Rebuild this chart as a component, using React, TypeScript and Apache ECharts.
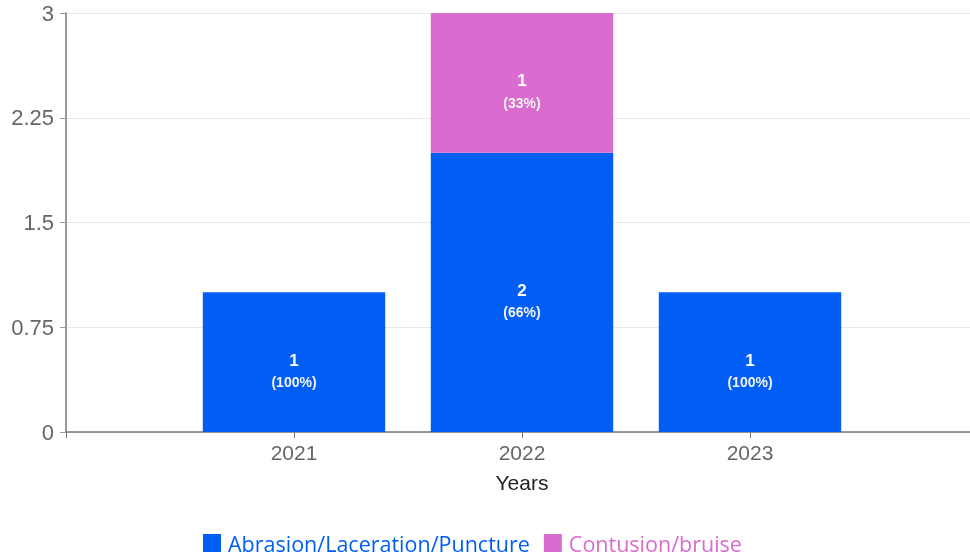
import React, { useEffect, useRef } from "react";
import * as echarts from "echarts";

const categories = ["", "2021", "2022", "2023", ""];
const seriesNames = ["Abrasion/Laceration/Puncture", "Contusion/bruise"];
const abrasionValues = [null, 1, 2, 1, null];
const contusionValues = [null, null, 1, null, null];
const yTicks = [0, 0.75, 1.5, 2.25, 3];
const colors = ["#005EF5", "#DA6BCF"];

const totals = categories.map((_, i) => (abrasionValues[i] || 0) + (contusionValues[i] || 0));

function labelFormatter(p: any) {
  const v = p.value;
  const t = totals[p.dataIndex];
  const pct = t ? Math.floor((v / t) * 100) : 0;
  return `{n|${v}}\n{p|(${pct}%)}`;
}

const FONT = "Liberation Sans, Arial, sans-serif";

const barLabel = {
  show: true,
  position: "inside",
  offset: [0, 9],
  formatter: labelFormatter,
  rich: {
    n: { color: "#ffffff", fontSize: 17, fontWeight: "bold", lineHeight: 22, fontFamily: FONT },
    p: { color: "#f2f2f2", fontSize: 14, fontWeight: "bold", lineHeight: 22, fontFamily: FONT },
  },
};

export default function App() {
  const ref = useRef<HTMLDivElement>(null);
  useEffect(() => {
    if (!ref.current) return;
    const chart = echarts.init(ref.current, null, { renderer: "svg" });
    chart.setOption({
      animation: false,
      color: colors,
      grid: { left: 66, width: 912, top: 13, bottom: 126, containLabel: false, outerBoundsMode: "none" },
      legend: {
        bottom: -1,
        left: 198,
        itemWidth: 18,
        itemHeight: 18,
        itemGap: 14,
        icon: "rect",
        data: seriesNames.map((n, i) => ({ name: n, textStyle: { color: colors[i] } })),
        textStyle: { fontSize: 21.5, fontFamily: "'Open Sans', Lato, sans-serif", padding: [0, 0, 0, 2] },
      },
      xAxis: {
        type: "category",
        data: categories,
        boundaryGap: false,
        name: "Years",
        nameLocation: "middle",
        nameGap: 40,
        nameTextStyle: { color: "#222", fontSize: 21, fontFamily: FONT },
        axisLine: { lineStyle: { color: "#777", width: 1.5 } },
        axisTick: { show: true, length: 6, lineStyle: { color: "#777" } },
        axisLabel: { color: "#666", fontSize: 21, margin: 10, fontFamily: FONT, interval: 0 },
        splitLine: { show: false },
      },
      yAxis: {
        type: "value",
        min: yTicks[0],
        max: yTicks[yTicks.length - 1],
        interval: 0.75,
        axisLine: { show: true, lineStyle: { color: "#999", width: 2 } },
        axisTick: { show: true, length: 6, lineStyle: { color: "#999" } },
        axisLabel: { color: "#666", fontSize: 22, margin: 12, fontFamily: FONT },
        splitLine: { show: true, lineStyle: { color: "#e8e8e8", width: 1 } },
      },
      series: [
        {
          name: seriesNames[0],
          type: "bar",
          stack: "total",
          barWidth: "80%",
          data: abrasionValues,
          label: barLabel,
        },
        {
          name: seriesNames[1],
          type: "bar",
          stack: "total",
          barWidth: "80%",
          data: contusionValues,
          label: barLabel,
        },
      ],
    });
    return () => chart.dispose();
  }, []);
  return <div ref={ref} style={{ position: "fixed", left: 0, top: 0, width: 970, height: 558 }} />;
}
